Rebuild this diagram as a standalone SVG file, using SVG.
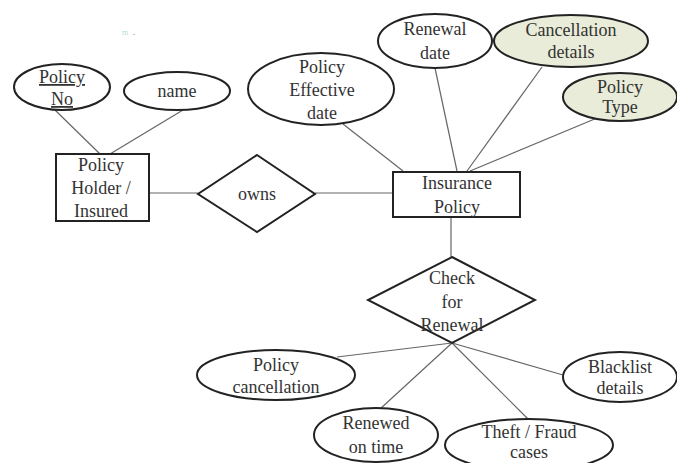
<svg xmlns="http://www.w3.org/2000/svg" width="677" height="463" viewBox="0 0 677 463">
<style>
.n{fill:#fff;stroke:#222;stroke-width:2}
.g{fill:#e8ecd8;stroke:#222;stroke-width:2}
.c line{stroke:#666;stroke-width:1.2}
text{font-family:"Liberation Serif","DejaVu Serif",serif;font-size:18px;fill:#333;text-anchor:middle}
.u{text-decoration:underline}
</style>
<rect width="677" height="463" fill="#fff"/>
<text x="125" y="35" style="font-size:8px;fill:#aee0e0">m</text>
<text x="134" y="35" style="font-size:8px;fill:#333">.</text>
<g class="c" id="connectors">
<line x1="55" y1="110" x2="100" y2="154"/>
<line x1="183" y1="110" x2="110" y2="154"/>
<line x1="149" y1="193" x2="198" y2="193"/>
<line x1="315" y1="193" x2="393" y2="193"/>
<line x1="343" y1="124" x2="403" y2="171"/>
<line x1="435" y1="68" x2="457" y2="171"/>
<line x1="542" y1="67" x2="467" y2="171"/>
<line x1="597" y1="118" x2="470" y2="171"/>
<line x1="451" y1="217" x2="451" y2="257"/>
<line x1="452" y1="343" x2="337" y2="357"/>
<line x1="452" y1="343" x2="380" y2="409"/>
<line x1="452" y1="343" x2="528" y2="419"/>
<line x1="452" y1="343" x2="563" y2="375"/>
</g>
<g id="policy-no"><ellipse class="n" cx="62" cy="87" rx="48" ry="23"/><text x="62" y="83" class="u">Policy</text><text x="62" y="105" class="u">No</text></g>
<g id="name"><ellipse class="n" cx="177" cy="91" rx="53" ry="19"/><text x="177" y="97">name</text></g>
<g id="policy-holder"><rect class="n" x="56" y="154" width="93" height="67"/><text x="101" y="171">Policy</text><text x="101" y="194">Holder /</text><text x="101" y="217">Insured</text></g>
<g id="owns"><polygon class="n" points="257,155 315,194 257,232 198,194"/><text x="257" y="200">owns</text></g>
<g id="insurance-policy"><rect class="n" x="393" y="172" width="127" height="45"/><text x="457" y="189">Insurance</text><text x="457" y="213">Policy</text></g>
<g id="effective-date"><ellipse class="n" cx="321" cy="89" rx="73" ry="36"/><text x="322" y="73">Policy</text><text x="322" y="96">Effective</text><text x="322" y="119">date</text></g>
<g id="renewal-date"><ellipse class="n" cx="435" cy="41" rx="57" ry="27"/><text x="435" y="35">Renewal</text><text x="435" y="59">date</text></g>
<g id="cancellation-details"><ellipse class="g" cx="571" cy="41" rx="77" ry="26"/><text x="571" y="36">Cancellation</text><text x="571" y="58">details</text></g>
<g id="policy-type"><ellipse class="g" cx="620" cy="97" rx="57" ry="24"/><text x="620" y="93">Policy</text><text x="620" y="113">Type</text></g>
<g id="check-renewal"><polygon class="n" points="452,257 535,300 452,343 368,300"/><text x="452" y="284">Check</text><text x="452" y="308">for</text><text x="452" y="331">Renewal</text></g>
<g id="policy-cancellation"><ellipse class="n" cx="276" cy="375" rx="79" ry="25"/><text x="276" y="371">Policy</text><text x="276" y="393">cancellation</text></g>
<g id="renewed-on-time"><ellipse class="n" cx="376" cy="435" rx="62" ry="27"/><text x="376" y="429">Renewed</text><text x="376" y="453">on time</text></g>
<g id="theft-fraud"><ellipse class="n" cx="529" cy="445" rx="84" ry="26"/><text x="529" y="438">Theft / Fraud</text><text x="529" y="458">cases</text></g>
<g id="blacklist-details"><ellipse class="n" cx="620" cy="377" rx="57" ry="25"/><text x="620" y="373">Blacklist</text><text x="620" y="394">details</text></g>
</svg>
